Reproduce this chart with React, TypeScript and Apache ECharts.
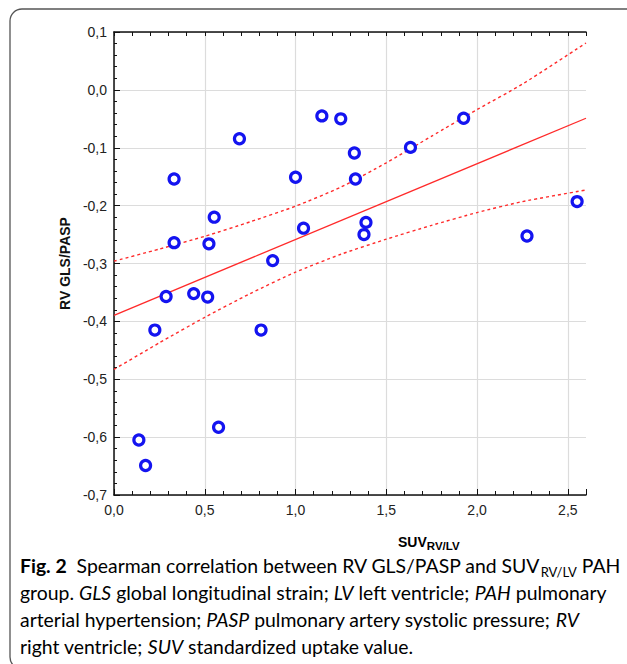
import React, { useEffect, useRef } from 'react';
import * as echarts from 'echarts';

// scatter points (SUV RV/LV, RV GLS/PASP)
const pointX = [0.331, 0.691, 1.0, 1.145, 1.249, 1.324, 1.33, 1.633, 1.926, 2.551, 0.331, 0.552, 0.523, 1.044, 1.388, 1.377, 0.874, 0.287, 0.439, 0.516, 0.225, 0.81, 2.275, 0.137, 0.174, 0.576];
const pointY = [-0.154, -0.0845, -0.151, -0.045, -0.05, -0.109, -0.154, -0.0994, -0.049, -0.193, -0.264, -0.22, -0.266, -0.239, -0.229, -0.25, -0.295, -0.357, -0.352, -0.358, -0.415, -0.415, -0.2525, -0.605, -0.649, -0.583];

// regression line
const fitX = [0, 2.6];
const fitY = [-0.3895, -0.049];

// confidence band (upper / lower)
const bandX = [0, 0.25, 0.5, 0.75, 1.0, 1.25, 1.5, 1.75, 2.0, 2.25, 2.6];
const upperY = [-0.296, -0.275, -0.253, -0.228, -0.201, -0.168, -0.126, -0.08, -0.034, 0.01, 0.081];
const lowerY = [-0.483, -0.437, -0.393, -0.352, -0.315, -0.284, -0.258, -0.234, -0.212, -0.193, -0.173];

const xMin = 0;
const xMax = 2.6;
const yMin = -0.7;
const yMax = 0.1;

const fmt = (v: number) => v.toFixed(1).replace('.', ',');
const zip = (a: number[], b: number[]) => a.map((v, i) => [v, b[i]]);

const RED = '#ff2a2a';
const BLUE = '#1414f0';
const CAP_FONT = 'Lato';
const CAP_SIZE = 19.4;

export default function App() {
  const ref = useRef<HTMLDivElement>(null);
  useEffect(() => {
    if (!ref.current) return;
    const chart = echarts.init(ref.current, null, { renderer: 'svg' });
    const axisFont = { fontFamily: 'Liberation Sans, Arial', fontSize: 14, color: '#222' };
    const capRich: any = {
      n: { fontFamily: CAP_FONT, fontSize: CAP_SIZE, color: '#231f20', lineHeight: 27 },
      b: { fontFamily: CAP_FONT, fontSize: CAP_SIZE, fontWeight: 'bold', color: '#231f20', lineHeight: 27 },
      i: { fontFamily: CAP_FONT, fontSize: CAP_SIZE, fontStyle: 'italic', color: '#231f20', lineHeight: 27 },
      s: { fontFamily: CAP_FONT, fontSize: 13, color: '#231f20', lineHeight: 16, verticalAlign: 'bottom' },
    };
    const capLines = [
      '{b|Fig. 2}{n|  Spearman correlation between RV GLS/PASP and SUV}{s|RV/LV}{n| PAH}',
      '{n|group. }{i|GLS}{n| global longitudinal strain; }{i|LV}{n| left ventricle; }{i|PAH}{n| pulmonary}',
      '{n|arterial hypertension; }{i|PASP}{n| pulmonary artery systolic pressure; }{i|RV}',
      '{n|right ventricle; }{i|SUV}{n| standardized uptake value.}',
    ];
    const capY = [565, 592, 619, 646];
    const option: any = {
      animation: false,
      backgroundColor: '#ffffff',
      grid: { left: 114, right: 41, top: 32, bottom: 169, containLabel: false },
      xAxis: [
        {
          type: 'value', position: 'bottom', min: xMin, max: xMax, interval: 0.1,
          axisLine: { show: true, onZero: false, lineStyle: { color: '#111', width: 1.5 } },
          axisTick: { show: true, inside: true, length: 4, lineStyle: { color: '#111' } },
          axisLabel: {
            ...axisFont, margin: 8,
            formatter: (v: number) => (Math.abs(v / 0.5 - Math.round(v / 0.5)) < 1e-6 ? fmt(v) : ''),
          },
          splitLine: { show: false },
        },
        {
          type: 'value', position: 'bottom', min: xMin, max: xMax, interval: 0.5,
          axisLine: { show: false, onZero: false },
          axisTick: { show: true, inside: true, length: 6, lineStyle: { color: '#111' } },
          axisLabel: { show: false },
          splitLine: { show: true, showMaxLine: false, lineStyle: { color: '#dcdcdc', width: 1.2 } },
        },
        {
          type: 'value', position: 'top', min: xMin, max: xMax, interval: 0.1,
          axisLine: { show: true, onZero: false, lineStyle: { color: '#111', width: 1.5 } },
          axisTick: { show: true, inside: true, length: 4, lineStyle: { color: '#111' } },
          axisLabel: { show: false },
          splitLine: { show: false },
        },
      ],
      yAxis: [
        {
          type: 'value', min: yMin, max: yMax, interval: 0.1,
          name: 'RV GLS/PASP', nameLocation: 'middle', nameRotate: 90, nameGap: 42,
          nameTextStyle: { fontFamily: 'Liberation Sans, Arial', fontSize: 14, fontWeight: 'bold', color: '#111' },
          axisLine: { show: true, onZero: false, lineStyle: { color: '#111', width: 1.5 } },
          axisTick: { show: true, inside: true, length: 6, lineStyle: { color: '#111' } },
          minorTick: { show: true, splitNumber: 5, length: 3, lineStyle: { color: '#111' } },
          axisLabel: { ...axisFont, margin: 7, formatter: (v: number) => fmt(v) },
          splitLine: { show: true, lineStyle: { color: '#dcdcdc', width: 1.2 } },
        },
      ],
      series: [
        {
          type: 'line', data: zip(bandX, upperY), smooth: 0.2, showSymbol: false, silent: true,
          lineStyle: { color: RED, width: 1.4, type: [3, 3] }, z: 3,
        },
        {
          type: 'line', data: zip(bandX, lowerY), smooth: 0.2, showSymbol: false, silent: true,
          lineStyle: { color: RED, width: 1.4, type: [3, 3] }, z: 3,
        },
        {
          type: 'line', data: zip(fitX, fitY), showSymbol: false, silent: true,
          lineStyle: { color: RED, width: 1.3 }, z: 3,
        },
        {
          type: 'scatter', data: zip(pointX, pointY), symbol: 'circle', symbolSize: 10,
          itemStyle: { color: '#ffffff', borderColor: BLUE, borderWidth: 3.2, opacity: 1 }, z: 5,
        },
      ],
      graphic: [
        {
          type: 'rect', shape: { x: 10, y: 9, width: 640, height: 660, r: 12 },
          style: { fill: 'none', stroke: '#555', lineWidth: 1.3 }, silent: true,
        },
        {
          type: 'text', x: 398, y: 542,
          style: {
            text: '{a|SUV}{s|RV/LV}',
            verticalAlign: 'middle',
            rich: {
              a: { fontFamily: 'Liberation Sans, Arial', fontSize: 14, fontWeight: 'bold', color: '#111', lineHeight: 20 },
              s: { fontFamily: 'Liberation Sans, Arial', fontSize: 11.5, fontWeight: 'bold', color: '#111', lineHeight: 14, verticalAlign: 'bottom' },
            },
          },
        },
        ...capLines.map((t, k) => ({
          type: 'text', x: 20, y: capY[k],
          style: { text: t, verticalAlign: 'middle', rich: capRich },
        })),
      ],
    };
    chart.setOption(option);
    return () => chart.dispose();
  }, []);
  return (
    <div
      ref={ref}
      style={{ position: 'fixed', left: 0, top: 0, width: 627, height: 664, background: '#fff' }}
    />
  );
}
